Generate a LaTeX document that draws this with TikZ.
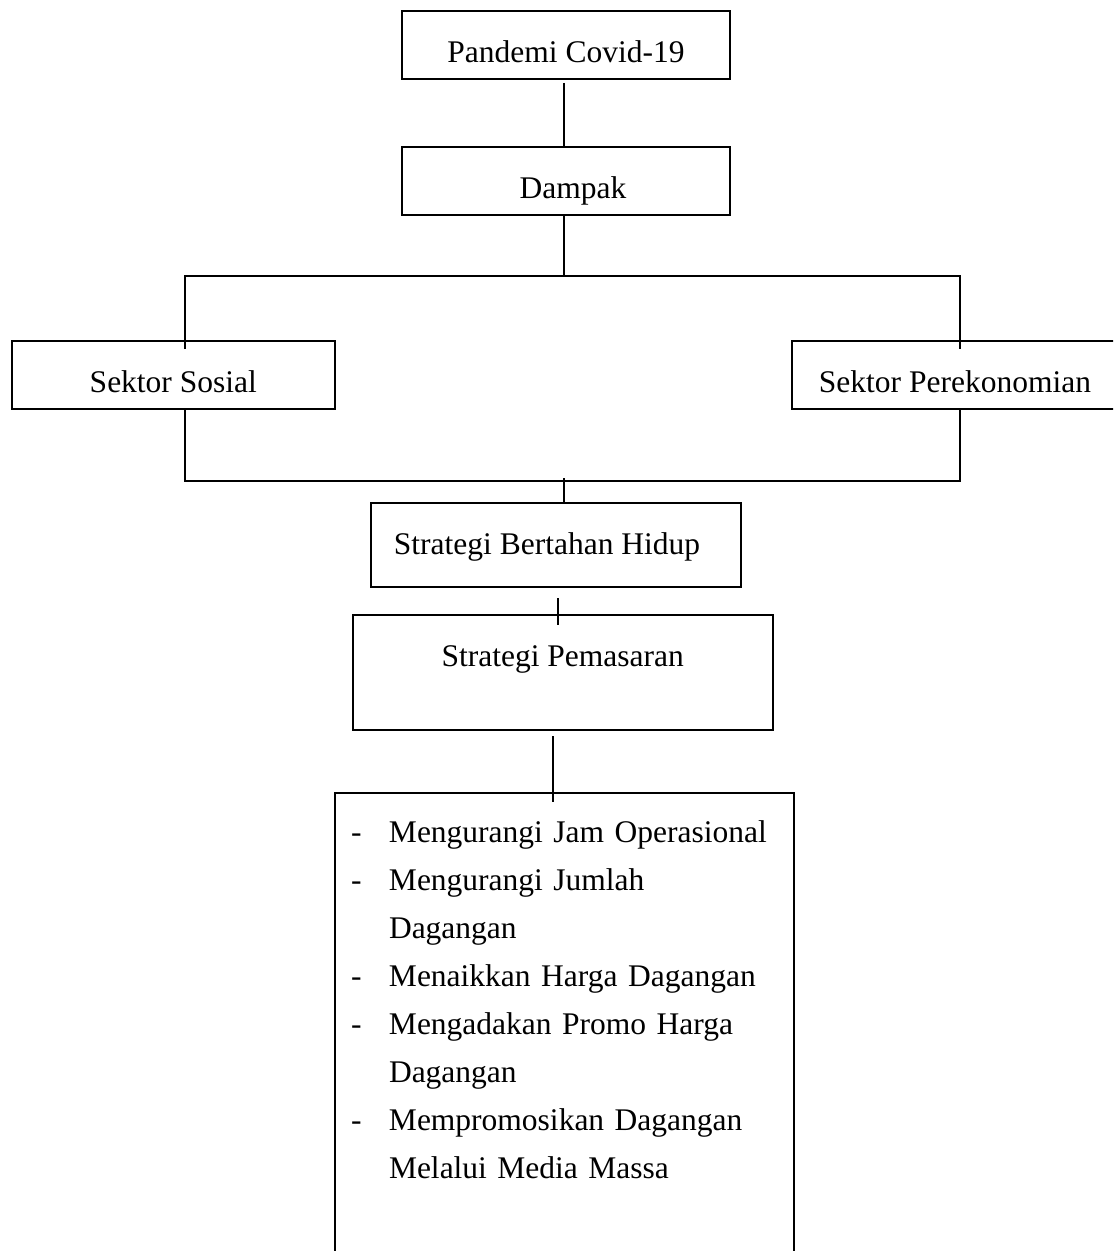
\documentclass[tikz,border=0pt]{standalone}
\usepackage{fontspec}
\setmainfont{Liberation Serif}
\usepackage{tikz}

\begin{document}
\begin{tikzpicture}[x=0.5pt,y=-0.5pt,
    kotak/.style={draw,line width=1pt,inner sep=0pt,anchor=north west,
        font=\fontsize{15.75pt}{24pt}\selectfont},
    garis/.style={line width=1pt}]
        % ukuran gambar
        \useasboundingbox(0,0)rectangle(1113,1251);
        \clip(0,0)rectangle(1113,1251);
        % kotak atas
        \node[kotak,minimum width=164pt,text height=26pt,text depth=8pt](pandemi)at(401,10){Pandemi Covid-19};
        \node[kotak,minimum width=164pt,text height=26pt,text depth=8pt](dampak)at(401,146){\hspace*{7pt}Dampak};
        % kotak sektor
        \node[kotak,minimum width=161.7pt,text height=25.85pt,text depth=8.15pt](sosial)at(10.6,340){Sektor Sosial};
        \node[kotak,minimum width=163pt,text height=25.85pt,text depth=8.15pt](ekonomi)at(791,340){Sektor Perekonomian};
        % kotak strategi
        \node[kotak,minimum width=185pt,text height=25.5pt,text depth=16.5pt](bertahan)at(370,502){Strategi Bertahan Hidup\hspace*{9pt}};
        \node[kotak,minimum width=210pt,text height=25.5pt,text depth=32pt](pemasaran)at(351.7,614){Strategi Pemasaran};
        % kotak daftar
        \node[kotak,text width=213.35pt,inner xsep=8pt,text height=25pt,text depth=214pt](daftar)at(334,791.7){%
            \begin{tabular}[t]{@{}p{19pt}@{}l@{}}
            - & Mengurangi Jam Operasional\\
            - & Mengurangi Jumlah\\
              & Dagangan\\
            - & Menaikkan Harga Dagangan\\
            - & Mengadakan Promo Harga\\
              & Dagangan\\
            - & Mempromosikan Dagangan\\
              & Melalui Media Massa
            \end{tabular}};
        % titik cabang
        \coordinate(cabangatas)at(564,276);
        \coordinate(cabangbawah)at(564,481);
        \coordinate(kiriatas)at(184.5,349);
        \coordinate(kananatas)at(960,349);
        % garis penghubung
        \draw[garis]([yshift=-1.5pt]pandemi.south-|cabangatas)--(dampak.north-|cabangatas);
        \draw[garis](dampak.south-|cabangatas)--(cabangatas);
        \draw[garis](kiriatas)|-(cabangatas)-|(kananatas);
        \draw[garis](sosial.south-|kiriatas)|-(cabangbawah)-|(ekonomi.south-|kananatas);
        \draw[garis]([yshift=1.5pt]cabangbawah)--(bertahan.north-|cabangbawah);
        \draw[garis]([xshift=1pt,yshift=-5pt]bertahan.south)--++(0,27);
        \draw[garis]([xshift=-5pt,yshift=-2.5pt]pemasaran.south)--++(0,66);
    \end{tikzpicture}
\end{document}
